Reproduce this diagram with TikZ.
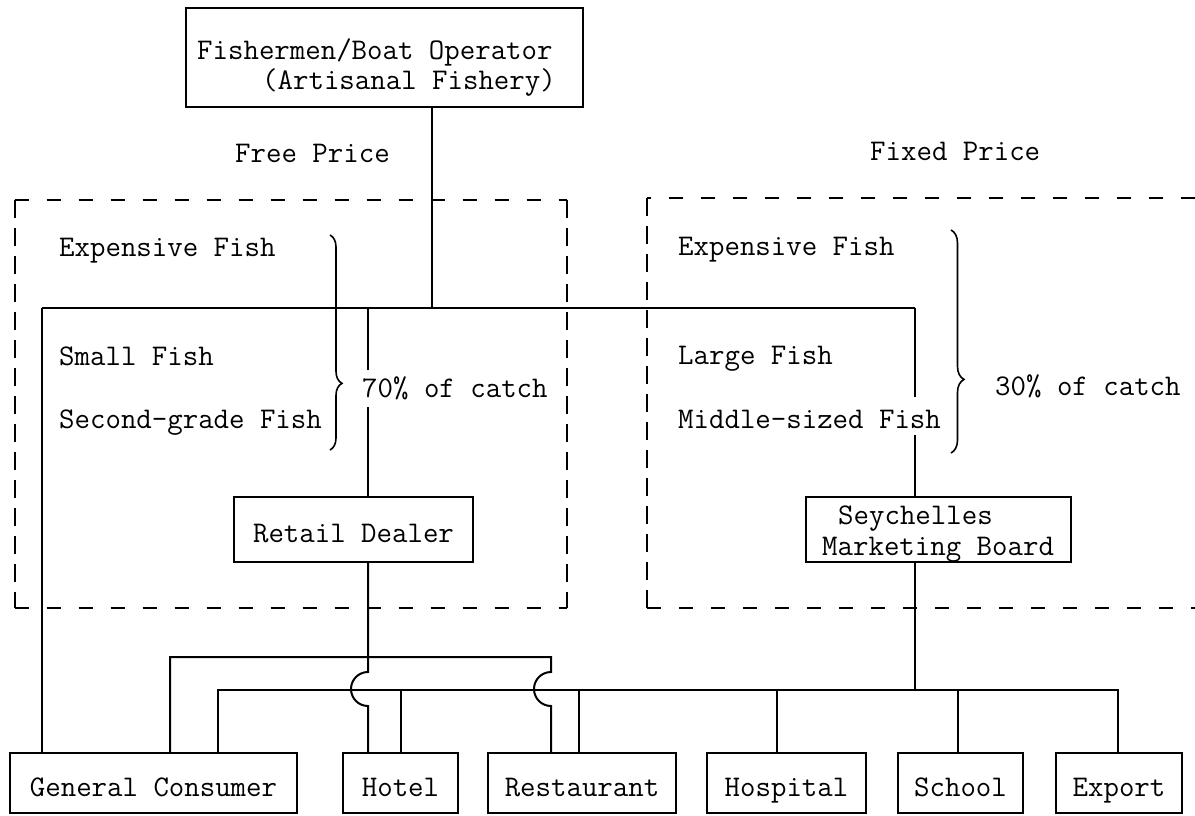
\documentclass[tikz,border=0pt]{standalone}
\usetikzlibrary{decorations.pathreplacing}
\newcommand\twfont{\ttfamily\fontsize{30}{30}\selectfont}
\begin{document}
\begin{tikzpicture}[x=1pt,y=-1pt,
  box/.style={draw, line width=2pt, inner sep=0pt, text height=30pt, text depth=4pt, font=\twfont, minimum height=60},
  lbl/.style={anchor=base west, inner sep=0pt, font=\twfont},
  dashh/.style={line width=2pt, dash pattern=on 14pt off 18pt},
  dashv/.style={line width=2pt, dash pattern=on 18pt off 10pt},
  conn/.style={line width=2pt},
  bracestyle/.style={line width=1.6pt, decorate}]
\fill[white] (0,0) rectangle (1195,816);
\useasboundingbox (0,0) rectangle (1195,816);

% top box
\node[box, minimum width=397, minimum height=99] (top) at (384.5,57.5) {};
\node[lbl] (top1) at (197,60) {Fishermen/Boat Operator};
\node[lbl] (top2) at (262,89) {(Artisanal Fishery)};

% price labels
\node[lbl] (free) at (235,162) {Free Price};
\node[lbl] (fixed) at (870,160) {Fixed Price};

% dashed regions
\coordinate (dl1) at (14.5,200);
\coordinate (dl2) at (567,608);
\draw[dashh] (dl1) -- (dl1 -| dl2);
\draw[dashh] (dl1 |- dl2) -- (dl2);
\draw[dashv] (dl1) -- (dl1 |- dl2);
\draw[dashv] (dl1 -| dl2) -- (dl2);
\coordinate (dr1) at (647,198);
\coordinate (dr2) at (1195,608);
\draw[dashh] (dr1 -| dr2) -- (dr1);
\draw[dashv] (dr1) -- (dr1 |- dr2);
\draw[dashh] (dr1 |- dr2) -- (dr2);

% fish labels
\node[lbl] (expL) at (59,256) {Expensive Fish};
\node[lbl] (small) at (59,365) {Small Fish};
\node[lbl] (second) at (59,428) {Second-grade Fish};
\node[lbl] (seventy) at (362,397) {70\% of catch};
\node[lbl] (expR) at (678,255) {Expensive Fish};
\node[lbl] (large) at (678,364) {Large Fish};
\node[lbl] (middle) at (678,428) {Middle-sized Fish};
\node[lbl] (thirty) at (995,395) {30\% of catch};

% braces
\draw[bracestyle, decoration={brace, amplitude=12pt, aspect=0.69}] (330,235) -- (330,450);
\draw[bracestyle, decoration={brace, amplitude=13pt, aspect=0.67}] (951,230) -- (951,453);

% middle boxes
\node[box, minimum width=239, minimum height=65] (rd) at (353.5,529.5) {Retail Dealer};
\node[box, minimum width=265, minimum height=65] (smb) at (938.5,529.5) {};
\node[lbl] (smb1) at (838,524) {Seychelles};
\node[lbl] (smb2) at (822,555) {Marketing Board};

% bottom boxes
\node[box, minimum width=287] (gc) at (153.5,783) {General Consumer};
\node[box, minimum width=115] (hotel) at (400.5,783) {Hotel};
\node[box, minimum width=188] (rest) at (582,783) {Restaurant};
\node[box, minimum width=159] (hosp) at (786.5,783) {Hospital};
\node[box, minimum width=125] (school) at (960.5,783) {School};
\node[box, minimum width=126] (exp) at (1119,783) {Export};

% main distribution bar
\coordinate (hub) at (432,308);
\coordinate (barL) at (42,308);
\coordinate (barR) at (915,308);
\draw[conn] (hub |- top.south) -- (hub);
\draw[conn] (barL) -- (barR);
\draw[conn] (barL) -- (barL |- gc.north);
\draw[conn] (368,308) -- (368,370);
\draw[conn] (368,407) -- (368,0 |- rd.north);
\draw[conn] (barR) -- (915,397);
\draw[conn] (915,435) -- (915,0 |- smb.north);

% retail dealer distribution (upper bus)
\draw[conn] (368,0 |- rd.south) -- (368,672) arc[start angle=270, end angle=90, radius=17] -- (368,0 |- hotel.north);
\draw[conn] (170,0 |- gc.north) -- (170,657) -- (551,657) -- (551,672) arc[start angle=270, end angle=90, radius=17] -- (551,0 |- rest.north);

% marketing board distribution (lower bus)
\draw[conn] (915,0 |- smb.south) -- (915,690);
\draw[conn] (218,0 |- gc.north) -- (218,690) -- (1118,690) -- (1118,0 |- exp.north);
\draw[conn] (401,690) -- (401,0 |- hotel.north);
\draw[conn] (579,690) -- (579,0 |- rest.north);
\draw[conn] (777,690) -- (777,0 |- hosp.north);
\draw[conn] (958,690) -- (958,0 |- school.north);
\end{tikzpicture}
\end{document}
